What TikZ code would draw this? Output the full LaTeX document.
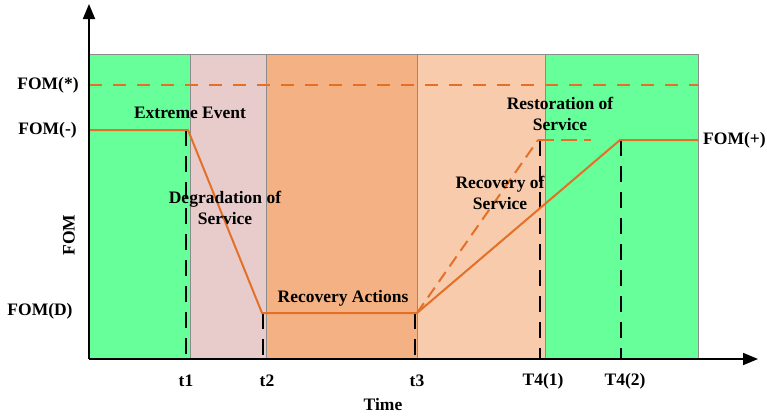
\documentclass[tikz,border=0pt]{standalone}
\usepackage{fontspec}
\setmainfont{Liberation Serif}
\usetikzlibrary{arrows.meta}
\definecolor{bgreen}{RGB}{102,255,153}
\definecolor{bpink}{RGB}{232,204,204}
\definecolor{borange}{RGB}{244,177,131}
\definecolor{blight}{RGB}{248,203,173}
\definecolor{lorange}{RGB}{228,112,40}
\begin{document}
\begin{tikzpicture}[x=1pt,y=-1pt,
  lbl/.style={font=\fontsize{17.5}{21}\selectfont\bfseries, inner sep=0pt, align=center},
  band/.style={draw=black!45, line width=0.6pt},
  vdash/.style={draw=black, line width=2.6pt, dash pattern=on 16pt off 10pt},
  oline/.style={draw=lorange, line width=2pt},
  odash/.style={draw=lorange, line width=2pt, dash pattern=on 13pt off 11pt},
  axis/.style={draw=black, line width=1.8pt, -{Triangle[length=15pt,width=12pt]}}]
\useasboundingbox (0,0) rectangle (767,416);
% bands
\fill[bgreen, band] (89,54) rectangle (190,359);
\fill[bpink, band] (190,54) rectangle (266,359);
\fill[borange, band] (266,54) rectangle (417,359);
\fill[blight, band] (417,54) rectangle (545,359);
\fill[bgreen, band] (545,54) rectangle (698,359);
% coordinates
\coordinate (o) at (89,359);
\coordinate (ytop) at (89,4);
\coordinate (xend) at (758,359);
\coordinate (s0) at (89,130);
\coordinate (s1) at (188,130);
\coordinate (s2) at (262,313);
\coordinate (s3) at (417,313);
\coordinate (s4) at (620,140);
\coordinate (s5) at (698,140);
\coordinate (d1) at (538,140);
\coordinate (d2) at (591,140);
\coordinate (st0) at (89,85);
\coordinate (st1) at (698,85);
\coordinate (v1t) at (186,130);
\coordinate (v1b) at (186,359);
\coordinate (v2t) at (263,313);
\coordinate (v2b) at (263,359);
\coordinate (v3t) at (415,313);
\coordinate (v3b) at (415,359);
\coordinate (v4t) at (540,140);
\coordinate (v4b) at (540,359);
\coordinate (v5t) at (621,140);
\coordinate (v5b) at (621,359);
% FOM(*) dashed
\draw[odash] (st0) -- (st1);
% vertical dashed markers
\draw[vdash] (v1t) -- (v1b);
\draw[vdash] (v2t) -- (v2b);
\draw[vdash] (v3t) -- (v3b);
\draw[vdash] (v4t) -- (v4b);
\draw[vdash] (v5t) -- (v5b);
% FOM curve
\draw[oline, line join=round] (s0) -- (s1) -- (s2) -- (s3) -- (s4) -- (s5);
\draw[odash, dash pattern=on 12pt off 7pt] (s3) -- (d1);
\draw[odash, dash pattern=on 16pt off 7pt] (d1) -- (d2);
% axes
\draw[axis] (o) -- (ytop);
\draw[axis] (o) -- (xend);
% labels
\node[lbl] (lstar) at (48,85) {FOM(*)};
\node[lbl] (lminus) at (47.5,130) {FOM(-)};
\node[lbl] (lD) at (40,311) {FOM(D)};
\node[lbl, rotate=90] (lfom) at (69,235) {FOM};
\node[lbl, anchor=west] (lplus) at (703,140) {FOM(+)};
\node[lbl] (ee) at (190,113) {Extreme Event};
\node[lbl] (deg) at (225,208) {Degradation of\\Service};
\node[lbl] (ra) at (343,298) {Recovery Actions};
\node[lbl] (ros) at (500,193) {Recovery of\\Service};
\node[lbl] (rest) at (560,114) {Restoration of\\Service};
\node[lbl] (t1) at (186,381) {t1};
\node[lbl] (t2) at (267,381) {t2};
\node[lbl] (t3) at (417,381) {t3};
\node[lbl] (t41) at (543,381) {T4(1)};
\node[lbl] (t42) at (625,381) {T4(2)};
\node[lbl] (time) at (383,404) {Time};
\end{tikzpicture}
\end{document}
